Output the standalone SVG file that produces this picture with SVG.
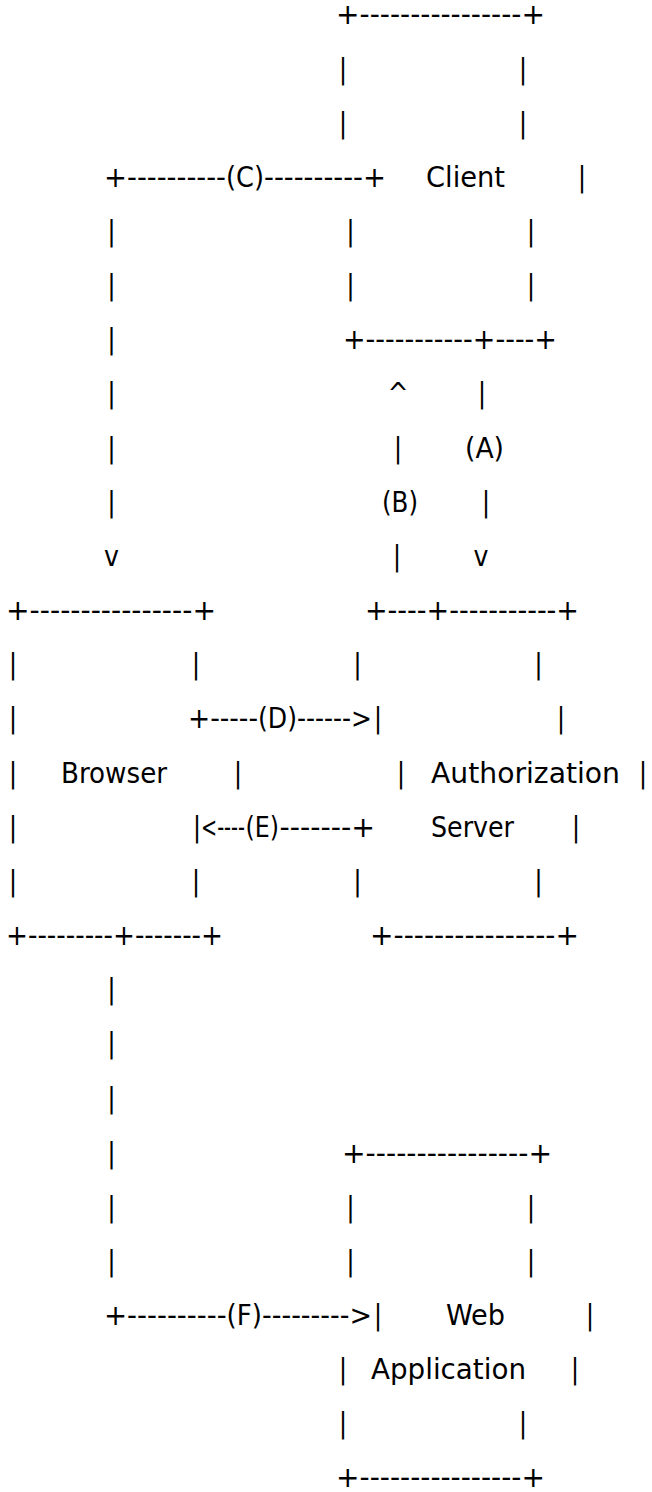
<svg xmlns="http://www.w3.org/2000/svg" width="652" height="1492" viewBox="0 0 652 1492">
  <style>
    text { font-family: "DejaVu Sans Condensed", "DejaVu Sans", sans-serif; font-size: 28px; fill: #000; }
    .c { text-anchor: middle; }
  </style>
  <rect width="652" height="1492" fill="#fff"/>

  <!-- Client box -->
  <g id="client">
    <text x="336" y="24.3" textLength="209" lengthAdjust="spacingAndGlyphs">+----------------+</text>
    <text class="c" x="343" y="78.5">|</text>
    <text class="c" x="523" y="78.5">|</text>
    <text class="c" x="343" y="132.6">|</text>
    <text class="c" x="523" y="132.6">|</text>
    <text x="426" y="186.8" textLength="79" lengthAdjust="spacingAndGlyphs">Client</text>
    <text class="c" x="582" y="186.8">|</text>
    <text class="c" x="350.5" y="240.9">|</text>
    <text class="c" x="531" y="240.9">|</text>
    <text class="c" x="350.5" y="295.1">|</text>
    <text class="c" x="531" y="295.1">|</text>
    <text x="343" y="349.2" textLength="214" lengthAdjust="spacingAndGlyphs">+-----------+----+</text>
  </g>

  <!-- Browser box -->
  <g id="browser">
    <text x="6" y="620.1" textLength="210" lengthAdjust="spacingAndGlyphs">+----------------+</text>
    <text class="c" x="13" y="674.3">|</text>
    <text class="c" x="196" y="674.3">|</text>
    <text class="c" x="13" y="728.4">|</text>
    <text class="c" x="13" y="782.6">|</text>
    <text x="61" y="782.6" textLength="106" lengthAdjust="spacingAndGlyphs">Browser</text>
    <text class="c" x="238" y="782.6">|</text>
    <text class="c" x="13" y="836.7">|</text>
    <text class="c" x="197" y="836.7">|</text>
    <text class="c" x="13" y="890.9">|</text>
    <text class="c" x="196" y="890.9">|</text>
    <text x="6" y="945" textLength="217" lengthAdjust="spacingAndGlyphs">+---------+-------+</text>
  </g>

  <!-- Authorization Server box -->
  <g id="auth-server">
    <text x="365" y="620.1" textLength="214" lengthAdjust="spacingAndGlyphs">+----+-----------+</text>
    <text class="c" x="357.6" y="674.3">|</text>
    <text class="c" x="538.5" y="674.3">|</text>
    <text class="c" x="378" y="728.4">|</text>
    <text class="c" x="561" y="728.4">|</text>
    <text class="c" x="401" y="782.6">|</text>
    <text x="431" y="782.6" textLength="189" lengthAdjust="spacingAndGlyphs">Authorization</text>
    <text class="c" x="643" y="782.6">|</text>
    <text x="431" y="836.7" textLength="83" lengthAdjust="spacingAndGlyphs">Server</text>
    <text class="c" x="576" y="836.7">|</text>
    <text class="c" x="357.6" y="890.9">|</text>
    <text class="c" x="538.5" y="890.9">|</text>
    <text x="370" y="945" textLength="209" lengthAdjust="spacingAndGlyphs">+----------------+</text>
  </g>

  <!-- Web Application box -->
  <g id="web-app">
    <text x="342" y="1162.6" textLength="210" lengthAdjust="spacingAndGlyphs">+----------------+</text>
    <text class="c" x="350.5" y="1216.8">|</text>
    <text class="c" x="531" y="1216.8">|</text>
    <text class="c" x="350.5" y="1270.9">|</text>
    <text class="c" x="531" y="1270.9">|</text>
    <text class="c" x="378" y="1325.1">|</text>
    <text x="446" y="1325.1" textLength="59" lengthAdjust="spacingAndGlyphs">Web</text>
    <text class="c" x="590" y="1325.1">|</text>
    <text class="c" x="343" y="1379.2">|</text>
    <text x="371" y="1379.2" textLength="155" lengthAdjust="spacingAndGlyphs">Application</text>
    <text class="c" x="575" y="1379.2">|</text>
    <text class="c" x="343" y="1433.4">|</text>
    <text class="c" x="523" y="1433.4">|</text>
    <text x="336" y="1486.5" textLength="209" lengthAdjust="spacingAndGlyphs">+----------------+</text>
  </g>

  <!-- Flows (A) to (F) -->
  <g id="connectors">
    <!-- (C) client to browser -->
    <text x="104" y="186.8" textLength="122" lengthAdjust="spacingAndGlyphs">+----------</text>
    <text x="226" y="186.8" textLength="38" lengthAdjust="spacingAndGlyphs">(C)</text>
    <text x="264" y="186.8" textLength="122" lengthAdjust="spacingAndGlyphs">----------+</text>
    <text class="c" x="111.4" y="240.9">|</text>
    <text class="c" x="111.4" y="295.1">|</text>
    <text class="c" x="111.4" y="349.2">|</text>
    <text class="c" x="111.4" y="403.4">|</text>
    <text class="c" x="111.4" y="457.5">|</text>
    <text class="c" x="111.4" y="511.7">|</text>
    <text class="c" x="111.4" y="565.8">v</text>

    <!-- (A) client to authorization server -->
    <text class="c" x="482" y="403.4">|</text>
    <text x="465" y="457.5" textLength="39" lengthAdjust="spacingAndGlyphs">(A)</text>
    <text class="c" x="486" y="511.7">|</text>
    <text class="c" x="481" y="565.8">v</text>

    <!-- (B) authorization server to client -->
    <text class="c" x="398" y="403.4">^</text>
    <text class="c" x="398" y="457.5">|</text>
    <text x="382" y="511.7" textLength="36" lengthAdjust="spacingAndGlyphs">(B)</text>
    <text class="c" x="397" y="565.8">|</text>

    <!-- (D) browser to authorization server -->
    <text x="188" y="728.4" textLength="70" lengthAdjust="spacingAndGlyphs">+-----</text>
    <text x="258" y="728.4" textLength="39" lengthAdjust="spacingAndGlyphs">(D)</text>
    <text x="297" y="728.4" textLength="75" lengthAdjust="spacingAndGlyphs">------&gt;</text>

    <!-- (E) authorization server to browser -->
    <text x="201" y="836.7" textLength="44" lengthAdjust="spacingAndGlyphs">&lt;----</text>
    <text x="245.5" y="836.7" textLength="33.5" lengthAdjust="spacingAndGlyphs">(E)</text>
    <text x="279.5" y="836.7" textLength="95.5" lengthAdjust="spacingAndGlyphs">-------+</text>

    <!-- (F) browser to web application -->
    <text class="c" x="111.4" y="999.2">|</text>
    <text class="c" x="111.4" y="1053.3">|</text>
    <text class="c" x="111.4" y="1107.5">|</text>
    <text class="c" x="111.4" y="1162.6">|</text>
    <text class="c" x="111.4" y="1216.8">|</text>
    <text class="c" x="111.4" y="1270.9">|</text>
    <text x="104" y="1325.1" textLength="122.6" lengthAdjust="spacingAndGlyphs">+----------</text>
    <text x="226.6" y="1325.1" textLength="35.4" lengthAdjust="spacingAndGlyphs">(F)</text>
    <text x="262" y="1325.1" textLength="110" lengthAdjust="spacingAndGlyphs">---------&gt;</text>
  </g>
</svg>
